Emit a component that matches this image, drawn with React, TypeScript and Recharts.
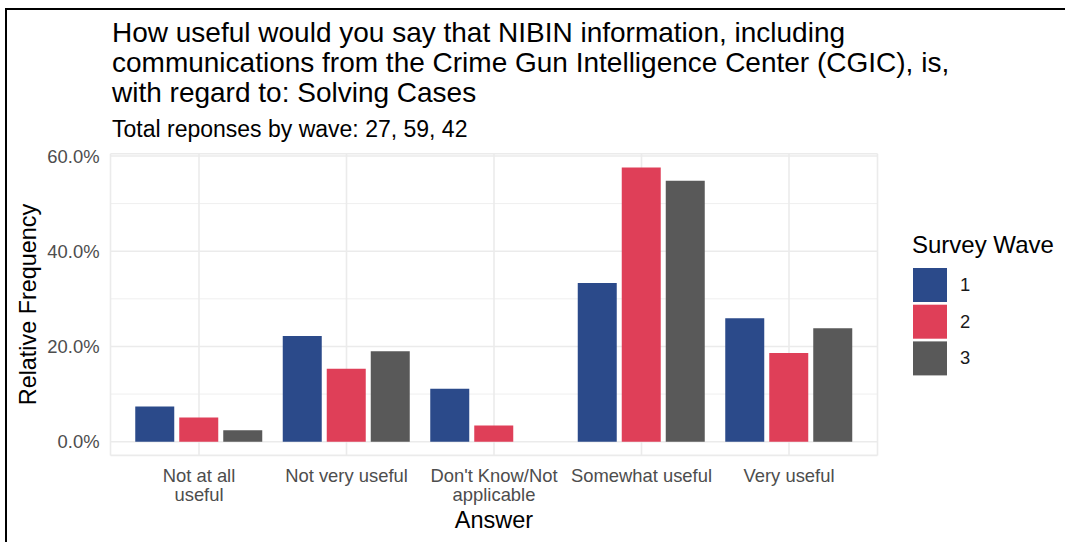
import { Bar, BarChart, CartesianGrid, Legend, XAxis, YAxis } from 'recharts';

const categories = [
  'Not at all useful',
  'Not very useful',
  "Don't Know/Not applicable",
  'Somewhat useful',
  'Very useful',
];
const tickLabels = [
  ['Not at all', 'useful'],
  ['Not very useful'],
  ["Don't Know/Not", 'applicable'],
  ['Somewhat useful'],
  ['Very useful'],
];
const wave1 = [7.4, 22.2, 11.1, 33.3, 25.9];
const wave2 = [5.1, 15.3, 3.4, 57.6, 18.6];
const wave3 = [2.4, 19.0, 0, 54.8, 23.8];
const waveNames = ['1', '2', '3'];
const yTicks = [0, 20, 40, 60];
const minorTicks = [10, 30, 50];
const titleLines = [
  'How useful would you say that NIBIN information, including',
  'communications from the Crime Gun Intelligence Center (CGIC), is,',
  'with regard to: Solving Cases',
];
const subtitle = 'Total reponses by wave: 27, 59, 42';

const Y_DOMAIN: [number, number] = [-2.88, 60.48];
const COLORS = ['#2b4a8a', '#df3f58', '#595959'];
const FONT = '"Liberation Sans", Arial, sans-serif';

const data = categories.map((answer, i) => ({
  answer,
  w1: wave1[i],
  w2: wave2[i],
  w3: wave3[i],
}));

// minor grid lines sit halfway between the major ones, like ggplot's
const minorGrid = ({ offset }: any) =>
  minorTicks.map(
    (v) => offset.top + ((Y_DOMAIN[1] - v) / (Y_DOMAIN[1] - Y_DOMAIN[0])) * offset.height,
  );

function AnswerTick({ x, y, payload }: any) {
  const lines = tickLabels[payload.index] ?? [payload.value];
  return (
    <text x={x} y={y} textAnchor="middle" fill="#4d4d4d" fontSize={18.4} fontFamily={FONT}>
      {lines.map((l, i) => (
        <tspan key={i} x={x} y={y + 26.3 + i * 19}>
          {l}
        </tspan>
      ))}
    </text>
  );
}

function WaveLegend({ payload }: any) {
  return (
    <svg width={160} height={160} style={{ display: 'block' }}>
      <text x={7} y={23} fontSize={24} fontFamily={FONT} fill="#000">
        Survey Wave
      </text>
      {(payload ?? []).map((p: any, i: number) => (
        <g key={p.value}>
          <rect x={8} y={38 + i * 36.7} width={34} height={34} fill={p.color} />
          <text x={55} y={38 + i * 36.7 + 23} fontSize={18.4} fontFamily={FONT} fill="#1a1a1a">
            {p.value}
          </text>
        </g>
      ))}
    </svg>
  );
}

export default function App() {
  return (
    <div
      style={{
        position: 'absolute',
        left: 0,
        top: 0,
        width: 1065,
        height: 542,
        background: '#fff',
        overflow: 'hidden',
        fontFamily: FONT,
      }}
    >
      <BarChart
        width={1065}
        height={542}
        data={data}
        margin={{ top: 153.7, right: 187.5, bottom: 0, left: 0 }}
        barCategoryGap={10}
        barGap={5}
      >
        <CartesianGrid
          vertical={false}
          stroke="#efefef"
          strokeWidth={1}
          horizontalCoordinatesGenerator={minorGrid}
        />
        <CartesianGrid stroke="#ebebeb" strokeWidth={1.6} />
        <XAxis
          dataKey="answer"
          height={86.6}
          padding={{ left: 14.75, right: 14.75 }}
          tickLine={false}
          axisLine={false}
          tickSize={0}
          tickMargin={0}
          interval={0}
          tick={<AnswerTick />}
        />
        <YAxis
          width={110.5}
          domain={Y_DOMAIN}
          ticks={yTicks}
          allowDataOverflow
          tickLine={false}
          axisLine={false}
          tickSize={0}
          tickMargin={11}
          tick={{ fill: '#4d4d4d', fontSize: 18.4, fontFamily: FONT }}
          tickFormatter={(v) => `${Number(v).toFixed(1)}%`}
        />
        <Legend
          layout="vertical"
          align="center"
          verticalAlign="middle"
          content={<WaveLegend />}
          wrapperStyle={{ left: 905, top: 230, width: 160, height: 160 }}
        />
        <Bar dataKey="w1" name={waveNames[0]} fill={COLORS[0]} isAnimationActive={false} />
        <Bar dataKey="w2" name={waveNames[1]} fill={COLORS[1]} isAnimationActive={false} />
        <Bar dataKey="w3" name={waveNames[2]} fill={COLORS[2]} isAnimationActive={false} />
      </BarChart>

      <svg
        width={1065}
        height={542}
        style={{ position: 'absolute', left: 0, top: 0, pointerEvents: 'none' }}
      >
        {titleLines.map((t, i) => (
          <text key={i} x={112} y={42.3 + i * 30} fontSize={28} fontFamily={FONT} fill="#000">
            {t}
          </text>
        ))}
        <text x={112} y={137} fontSize={23} fontFamily={FONT} fill="#000">
          {subtitle}
        </text>
        <text x={494} y={528} textAnchor="middle" fontSize={23.5} fontFamily={FONT} fill="#000">
          Answer
        </text>
        <text
          transform="translate(35.5, 304.5) rotate(-90)"
          textAnchor="middle"
          fontSize={23.4}
          fontFamily={FONT}
          fill="#000"
        >
          Relative Frequency
        </text>
      </svg>

      <div
        style={{
          position: 'absolute',
          left: 5,
          top: 8,
          width: 1070,
          height: 540,
          borderTop: '2.5px solid #000',
          borderLeft: '2.5px solid #000',
          pointerEvents: 'none',
        }}
      />
    </div>
  );
}
